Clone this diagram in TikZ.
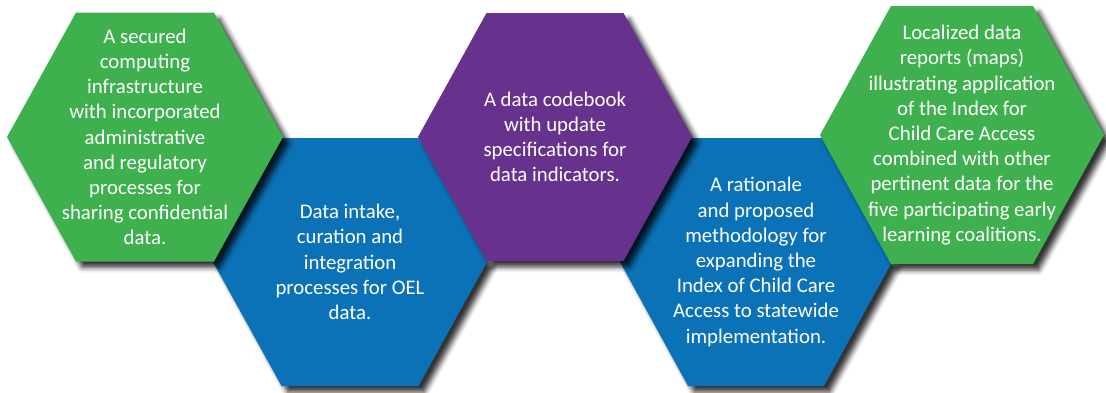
\documentclass[tikz,border=0pt]{standalone}
\usepackage{fontspec}
\setmainfont{Carlito}
\usepackage{tikz}
\usetikzlibrary{backgrounds,shadows.blur}

\definecolor{hexgreen}{RGB}{62,177,78}
\definecolor{hexblue}{RGB}{12,114,183}
\definecolor{hexpurple}{RGB}{102,50,141}

% hexagon round a node: #1 node, #2 half width, #3 half height
\newcommand{\hexaround}[3]{%
  ([shift={(-#2,0)}]#1.center) -- ([shift={(-#2/2,-#3)}]#1.center)
  -- ([shift={(#2/2,-#3)}]#1.center) -- ([shift={(#2,0)}]#1.center)
  -- ([shift={(#2/2,#3)}]#1.center) -- ([shift={(-#2/2,#3)}]#1.center) -- cycle}

\begin{document}
\begin{tikzpicture}[x=1pt,y=-1pt,
                    hexshadow/.style={blur shadow={shadow xshift=6pt,shadow yshift=-6pt,
                      shadow blur radius=5pt,shadow opacity=80}}]
  \tikzstyle{every node}=[text=white,align=center,inner sep=0pt,
                          font=\fontsize{20.8}{25.2}\selectfont]

  \useasboundingbox (0,0) rectangle (1106,392);

  \node (secure)    at (145,137) {A secured\\computing\\infrastructure\\with incorporated\\administrative\\and regulatory\\processes for\\sharing confidential\\data.};
  \node (intake)    at (350,262) {Data intake,\\curation and\\integration\\processes for OEL\\data.};
  \node (codebook)  at (555,137) {A data codebook\\with update\\specifications for\\data indicators.};
  \node (rationale) at (756,262) {A rationale\\and proposed\\methodology for\\expanding the\\Index of Child Care\\Access to statewide\\implementation.};
  \node (reports)   at (962,135) {Localized data\\reports (maps)\\illustrating application\\of the Index for\\Child Care Access\\combined with other\\pertinent data for the\\five participating early\\learning coalitions.};

  \begin{scope}[on background layer]
    \fill[hexblue,hexshadow]   \hexaround{intake}{137}{124};
    \fill[hexblue,hexshadow]   \hexaround{rationale}{136}{124};
    \fill[hexgreen,hexshadow]  \hexaround{secure}{138}{124.5};
    \fill[hexpurple,hexshadow] \hexaround{codebook}{137}{124};
    \fill[hexgreen,hexshadow]  \hexaround{reports}{142}{129};
  \end{scope}

\end{tikzpicture}
\end{document}
